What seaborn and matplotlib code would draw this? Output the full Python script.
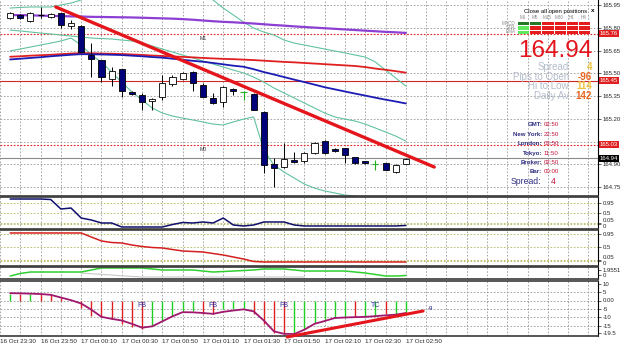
import numpy as np
import pandas as pd
import seaborn as sns
import matplotlib.pyplot as plt
from matplotlib.colors import ListedColormap
from matplotlib.transforms import blended_transform_factory

# ---- data (M5 candles, 16 Oct 23:35 .. 17 Oct 02:50) ----
opens = [165.864, 165.884, 165.845, 165.884, 165.871, 165.897, 165.810, 165.812, 165.620, 165.587,
         165.462, 165.528, 165.376, 165.357, 165.317, 165.343, 165.429, 165.462, 165.510, 165.423,
         165.337, 165.310, 165.396, 165.376, 165.363, 165.245, 164.902, 164.882, 164.928, 164.922,
         164.974, 165.053, 165.001, 165.007, 164.948, 164.922, 164.902, 164.908, 164.849, 164.902]
highs = [165.904, 165.890, 165.904, 165.937, 165.900, 165.900, 165.851, 165.820, 165.700, 165.590,
         165.541, 165.530, 165.380, 165.370, 165.335, 165.488, 165.488, 165.510, 165.515, 165.436,
         165.370, 165.415, 165.400, 165.380, 165.370, 165.250, 164.941, 165.040, 164.981, 164.980,
         165.045, 165.060, 165.005, 165.010, 164.950, 164.925, 164.928, 164.910, 164.900, 164.940]
lows = [165.858, 165.860, 165.840, 165.864, 165.865, 165.798, 165.790, 165.640, 165.475, 165.442,
        165.416, 165.343, 165.360, 165.258, 165.258, 165.324, 165.416, 165.455, 165.383, 165.343,
        165.297, 165.277, 165.357, 165.324, 165.255, 164.842, 164.750, 164.875, 164.908, 164.908,
        164.970, 164.968, 164.981, 164.908, 164.905, 164.905, 164.862, 164.860, 164.845, 164.900]
closes = [165.897, 165.864, 165.897, 165.884, 165.890, 165.818, 165.830, 165.640, 165.594, 165.475,
          165.515, 165.383, 165.363, 165.310, 165.330, 165.436, 165.475, 165.502, 165.436, 165.343,
          165.304, 165.409, 165.383, 165.376, 165.258, 164.895, 164.875, 164.935, 164.915, 164.974,
          165.040, 164.974, 164.987, 164.961, 164.908, 164.908, 164.902, 164.862, 164.895, 164.935]
green_doji = [23, 36]

ma_purple = [165.884, 165.883, 165.882, 165.880, 165.878, 165.877, 165.875, 165.874, 165.872, 165.871,
             165.870, 165.869, 165.868, 165.866, 165.864, 165.862, 165.860, 165.857, 165.853, 165.848,
             165.843, 165.839, 165.836, 165.832, 165.828, 165.823, 165.818, 165.814, 165.809, 165.805,
             165.801, 165.797, 165.793, 165.789, 165.785, 165.781, 165.777, 165.773, 165.770, 165.766]
ma_red = [165.609, 165.612, 165.616, 165.619, 165.622, 165.626, 165.630, 165.633, 165.632, 165.630,
          165.629, 165.627, 165.624, 165.621, 165.617, 165.614, 165.611, 165.608, 165.605, 165.601,
          165.598, 165.595, 165.593, 165.590, 165.587, 165.583, 165.579, 165.575, 165.572, 165.568,
          165.564, 165.560, 165.556, 165.552, 165.548, 165.541, 165.531, 165.523, 165.514, 165.504]
ma_blue = [165.591, 165.596, 165.601, 165.606, 165.612, 165.617, 165.622, 165.626, 165.625, 165.624,
           165.622, 165.620, 165.616, 165.612, 165.607, 165.603, 165.596, 165.589, 165.582, 165.576,
           165.568, 165.559, 165.550, 165.543, 165.527, 165.508, 165.492, 165.475, 165.458, 165.442,
           165.425, 165.408, 165.394, 165.380, 165.366, 165.353, 165.339, 165.326, 165.314, 165.301]
bb_upper = [165.930, 165.934, 165.937, 165.937, 165.937, 165.950, 165.963, 165.983, 166.009, 166.036,
            166.062, 166.082, 166.102, 166.115, 166.115, 166.108, 166.095, 166.075, 166.055, 166.023,
            165.983, 165.930, 165.884, 165.838, 165.798, 165.772, 165.752, 165.719, 165.699, 165.686,
            165.673, 165.660, 165.647, 165.634, 165.620, 165.607, 165.574, 165.521, 165.469, 165.416]
bb_mid = [165.785, 165.779, 165.772, 165.765, 165.759, 165.752, 165.746, 165.739, 165.732, 165.729,
          165.726, 165.719, 165.713, 165.699, 165.680, 165.660, 165.640, 165.620, 165.601, 165.581,
          165.561, 165.541, 165.521, 165.502, 165.475, 165.442, 165.403, 165.370, 165.337, 165.304,
          165.271, 165.238, 165.212, 165.198, 165.185, 165.165, 165.139, 165.113, 165.086, 165.053]
bb_lower = [165.647, 165.660, 165.673, 165.686, 165.699, 165.713, 165.732, 165.686, 165.620, 165.574,
            165.508, 165.442, 165.376, 165.324, 165.271, 165.238, 165.218, 165.205, 165.192, 165.179,
            165.165, 165.159, 165.179, 165.198, 165.212, 164.994, 164.895, 164.849, 164.809, 164.770,
            164.743, 164.724, 164.711, 164.697, 164.691, 164.684, 164.678, 164.671, 164.664, 164.658]

levels_red_dotted = [165.76, 165.03]
level_red_solid = 165.45
last_price = 164.94
trend_main_x = [4.5, 41.8]
trend_main_y = [165.937, 164.882]
price_ticks = [164.75, 164.90, 165.05, 165.20, 165.35, 165.50, 165.65, 165.80, 165.95]
price_labels = ['164.75', '164.90', '', '165.20', '165.35', '165.50', '165.65', '165.80', '165.95']

# sub windows
ind_navy = [1.112, 1.112, 1.112, 1.112, 1.09, 0.675, 0.718, 0.281, 0.194, 0.063,
            0.063, -0.112, -0.112, -0.112, -0.112, -0.112, -0.003, 0.085, 0.063, 0.107,
            0.063, 0.281, -0.025, -0.068, -0.025, 0.107, 0.107, 0.107, -0.025, -0.068,
            -0.068, -0.068, -0.068, -0.068, -0.068, -0.068, -0.068, -0.068, -0.068, -0.046]
ind_red = [0.985, 0.985, 0.985, 0.985, 0.985, 0.985, 0.985, 0.985, 0.846, 0.708,
           0.656, 0.639, 0.569, 0.518, 0.483, 0.466, 0.414, 0.362, 0.345, 0.327,
           0.275, 0.223, 0.154, 0.085, 0.0, -0.018, -0.018, -0.018, -0.018, -0.018,
           -0.018, -0.018, -0.018, -0.018, -0.018, -0.018, -0.018, -0.018, -0.018, -0.018]
level_ticks = [0.95, 0.5, 0.05, 0]
level_labels = ['0.95', '0.5', '0.05', '0']
ind_green = [-0.39, 0.59, 1.17, 1.17, 1.17, 1.17, 1.17, 1.17, 1.96, 2.74,
             2.74, 2.74, 2.74, 2.74, 2.35, 1.96, 1.96, 1.96, 1.96, 1.56,
             1.17, 1.37, 1.56, 1.76, 1.96, 2.35, 2.35, 2.35, 1.96, 1.56,
             1.56, 1.56, 1.56, 1.56, 1.17, 0.78, 0.20, -0.39, -0.39, -0.20]
grey_start = 7
ind_grey = [0.78, 0.5, 0.25, 0.0, -0.3, -0.55, -0.78, -0.78, -0.78, -0.78, -0.78, -0.78,
            -0.78, -0.78, -0.78, -0.78, -0.78, -0.78, -0.78, -0.78, -0.78, -0.78, -0.78]

osc_line = [4.4, 4.3, 4.1, 3.9, 3.4, 1.8, 0.2, -1.8, -5.5, -9.8,
            -11.0, -12.0, -14.0, -16.3, -15.5, -12.5, -9.5, -7.0, -7.1, -7.5,
            -8.0, -6.8, -6.0, -5.3, -6.5, -12.0, -18.5, -20.0, -20.1, -17.5,
            -14.0, -12.3, -10.5, -10.2, -10.0, -9.8, -9.4, -8.9, -8.5, -7.5]
osc_hist = [3.9, 3.9, 3.9, 3.9, 3.9, 1.5, 0.0, -4.2, -9.0, -10.0,
            -11.0, -14.0, -16.0, -17.0, -15.0, -12.0, -9.0, -6.0, -6.0, -8.0,
            -8.0, -5.0, -5.0, -4.5, -8.0, -14.0, -19.5, -20.0, -20.0, -17.0,
            -13.5, -11.0, -10.5, -10.0, -10.0, -9.3, -9.3, -8.1, -7.8, -6.9]
osc_dir = "grg" + "r" * 11 + "ggggg" + "rrgggrrrrggggggrggrgg"
osc_ticks = [10, 5, 0, -5, -10, -15, -19.5]
osc_labels = ['10', '5', '0.00', '-5', '-10', '-15', '-19.5']
sig_idx = [13, 20, 27, 36]
sig_txt = ['FB', 'FB', 'FB', 'TC']
trend_osc_x = [27.3, 40.7]
trend_osc_y = [-21.9, -6.3]

time_idx = [-1, 3, 7, 11, 15, 19, 23, 27, 31, 35, 39]
time_labels = ['16 Oct 23:30', '16 Oct 23:50', '17 Oct 00:10', '17 Oct 00:30', '17 Oct 00:50',
               '17 Oct 01:10', '17 Oct 01:30', '17 Oct 01:50', '17 Oct 02:10', '17 Oct 02:30',
               '17 Oct 02:50']

tf_labels = ['M1', 'M5', 'M15', 'M30', 'H1', 'H4']
sig_rows = ['MACD', 'STR', 'EMA']
sig_matrix = [[0, 0, 2, 2, 2, 2],
              [1, 2, 2, 2, 2, 2],
              [1, 2, 2, 2, 2, 2]]
stat_names = ['Spread', 'Pips to Open', 'Hi to Low', 'Daily Av']
stat_vals = ['4', '-96', '114', '142']
clock_names = ['GMT:', 'New York:', 'London:', 'Tokyo:', 'Broker:', 'Bar:']
clock_vals = ['02:50', '22:50', '03:50', '11:50', '02:50', '00:00']

# ---- figure ----
sns.set_style("white")
plt.rcParams['font.family'] = ['Liberation Sans', 'DejaVu Sans']

W, H = 625, 348
fig = plt.figure(figsize=(W / 100, H / 100), dpi=100)


def rect(x0, y0, x1, y1):
    return [x0 / W, 1 - y1 / H, (x1 - x0) / W, (y1 - y0) / H]


XLIM = (-0.686, 57.94)
GRID = dict(color='#9a9a9a', linestyle=(0, (2, 2)), linewidth=0.6)
idx = np.arange(len(opens))


def style_axis(a, top=True):
    a.set_xlim(*XLIM)
    a.set_xticks(np.arange(-1, 58, 2))
    a.tick_params(axis='x', length=0, labelbottom=False)
    a.yaxis.tick_right()
    a.tick_params(axis='y', labelsize=4.3, length=2, pad=1.5, width=0.5)
    a.grid(True, axis='x', **GRID)
    a.spines['left'].set_visible(False)
    a.spines['right'].set_color('black')
    a.spines['right'].set_linewidth(0.8)
    for s in ['top', 'bottom']:
        a.spines[s].set_color('#3a3a3a')
        a.spines[s].set_linewidth(1.2)
    a.spines['top'].set_visible(top)


def split_zero_labels(a):
    # "0.05" and "0" sit almost on top of each other, as in the terminal
    for lab in a.get_yticklabels():
        if lab.get_text() == '0':
            lab.set_verticalalignment('top')
        elif lab.get_text() == '0.05':
            lab.set_verticalalignment('bottom')


# main price window
ax = fig.add_axes(rect(0, 0, 598, 196))
style_axis(ax, top=False)
ax.set_ylim(164.691, 165.983)
ax.set_yticks(price_ticks)
ax.set_yticklabels(price_labels)
ax.grid(True, axis='y', **GRID)

for lv in levels_red_dotted:
    ax.axhline(lv, color='#e02020', linestyle=(0, (1.5, 1.5)), linewidth=0.8)
ax.axhline(level_red_solid, color='#d02828', linewidth=0.8)
ax.axhline(last_price, color='#8a8a8a', linewidth=0.8)

for band in (bb_upper, bb_mid, bb_lower):
    ax.plot(idx, band, color='#62c39d', lw=0.8)
sns.lineplot(x=idx, y=ma_purple, ax=ax, color='#8c3fd2', lw=1.6)
sns.lineplot(x=idx, y=ma_red, ax=ax, color='#e02020', lw=1.3)
sns.lineplot(x=idx, y=ma_blue, ax=ax, color='#1c1cb4', lw=1.3)

o, h, l, c = map(np.array, (opens, highs, lows, closes))
doji = o == c
gmask = np.isin(idx, green_doji)
ax.vlines(idx[~gmask], l[~gmask], h[~gmask], color='black', lw=0.7, zorder=3)
ax.vlines(idx[gmask], l[gmask], h[gmask], color='#22b022', lw=0.8, zorder=3)
ax.hlines(c[doji], idx[doji] - 0.3, idx[doji] + 0.3,
          color=np.where(gmask[doji], '#22b022', 'black'), lw=0.8, zorder=4)
up = (c > o)
dn = (c < o)
body_lo = np.minimum(o, c)
body_h = np.maximum(np.abs(c - o), 0.006)
ax.bar(idx[up], body_h[up], bottom=body_lo[up], width=0.6, color='white',
       edgecolor='black', linewidth=0.6, zorder=4)
ax.bar(idx[dn], body_h[dn], bottom=body_lo[dn], width=0.6, color='#00007a',
       edgecolor='black', linewidth=0.6, zorder=4)

ax.plot(trend_main_x, trend_main_y, color='#e4161c', lw=2.4, solid_capstyle='round', zorder=6)
ax.text(18.7, 165.745, 'M1', fontsize=3.8, color='#333333', va='top')
ax.text(18.7, 165.015, 'M0', fontsize=3.8, color='#333333', va='top')

bt = blended_transform_factory(ax.transAxes, ax.transData)
for lv in levels_red_dotted + [level_red_solid]:
    ax.text(1.003, lv, f'{lv:.2f}', transform=bt, fontsize=4.3, color='white', va='center',
            ha='left', clip_on=False, zorder=10,
            bbox=dict(boxstyle='square,pad=0.15', fc='#e02020', ec='none'))
ax.text(1.003, last_price, f'{last_price:.2f}', transform=bt, fontsize=4.3, color='white',
        va='center', ha='left', clip_on=False, zorder=10,
        bbox=dict(boxstyle='square,pad=0.15', fc='black', ec='none'))

# window 2
ax2 = fig.add_axes(rect(0, 197, 598, 229))
style_axis(ax2)
ax2.set_ylim(-0.2, 1.2)
ax2.set_yticks(level_ticks)
ax2.set_yticklabels(level_labels)
split_zero_labels(ax2)
for lv in level_ticks:
    ax2.axhline(lv, color='#b4b45a', linestyle=(0, (2, 2)), linewidth=0.6)
sns.lineplot(x=idx, y=ind_navy, ax=ax2, color='#10106e', lw=1.1)

# window 3
ax3 = fig.add_axes(rect(0, 230, 598, 266))
style_axis(ax3)
ax3.set_ylim(-0.157, 1.088)
ax3.set_yticks(level_ticks)
ax3.set_yticklabels(level_labels)
split_zero_labels(ax3)
for lv in level_ticks:
    ax3.axhline(lv, color='#b4b45a', linestyle=(0, (2, 2)), linewidth=0.6)
sns.lineplot(x=idx, y=ind_red, ax=ax3, color='#d42020', lw=1.1)

# window 4
ax4 = fig.add_axes(rect(0, 267, 598, 279))
style_axis(ax4)
ax4.set_ylim(-1.56, 3.13)
ax4.set_yticks([1.9551, 0])
ax4.set_yticklabels(['1.9551', '0'])
ax4.plot(idx[grey_start:grey_start + len(ind_grey)], ind_grey, color='#c8c8c8', lw=0.8)
sns.lineplot(x=idx, y=ind_green, ax=ax4, color='#30d030', lw=1.1)

# window 5
ax5 = fig.add_axes(rect(0, 281, 598, 336))
style_axis(ax5)
ax5.set_ylim(-21.3, 11.7)
ax5.set_yticks(osc_ticks)
ax5.set_yticklabels(osc_labels)
for lv in [5, 0, -5, -10, -15]:
    ax5.axhline(lv, **GRID)
ax5.vlines(idx, 0, osc_hist, colors=['#20d020' if d == 'g' else '#e02020' for d in osc_dir],
           lw=1.0, zorder=3)
sns.lineplot(x=idx, y=osc_line, ax=ax5, color='#a0186e', lw=1.3, zorder=4)
for i, t in zip(sig_idx, sig_txt):
    ax5.text(i, -3.2, t, fontsize=5, color='#3030a0', ha='center', va='center', zorder=5)
ax5.plot(trend_osc_x, trend_osc_y, color='#e4161c', lw=2.2, solid_capstyle='round',
         zorder=6, clip_on=False)
ax5.text(41.2, -4.6, '-9', fontsize=4.3, color='#202080', va='center')

bt5 = blended_transform_factory(ax5.transData, ax5.transAxes)
for i, t in zip(time_idx, time_labels):
    ax5.text(i, -0.05, t, transform=bt5, fontsize=4.5, ha='left', va='top', clip_on=False)

for a in (ax, ax2, ax3, ax4, ax5):
    a.set_xlabel('')
    a.set_ylabel('')
    if a.get_legend():
        a.get_legend().remove()

# ---- info panel (top right) ----
fig.text(587 / W, 1 - 11 / H, 'Close all open positions', fontsize=4.3, ha='right',
         va='center', color='black')
fig.text(593 / W, 1 - 11 / H, 'x', fontsize=4.5, ha='center', va='center',
         color='black', fontweight='bold')

axs = fig.add_axes(rect(517, 21, 590, 34))
sns.heatmap(np.array(sig_matrix), ax=axs, cbar=False, vmin=-0.5, vmax=2.5,
            cmap=ListedColormap(['#237a23', '#5ee85e', '#e41c1c']),
            linewidths=0.7, linecolor='white',
            xticklabels=tf_labels, yticklabels=sig_rows)
axs.xaxis.tick_top()
axs.tick_params(length=0, pad=1, labelsize=3.3, labelcolor='#8a8a8a')
axs.tick_params(axis='y', rotation=0)
axs.tick_params(axis='x', rotation=0)

fig.text(592 / W, 1 - 51 / H, f'{last_price:.2f}', fontsize=17.5, ha='right', va='center',
         color='#e4141c')
stat_colors = ['#f0c23a', '#e8641e', '#f0c23a', '#e8641e']
for k, (n, v) in enumerate(zip(stat_names, stat_vals)):
    y = 67 + 9.7 * k
    fig.text(569 / W, 1 - y / H, n, fontsize=7, ha='right', va='center', color='#b4bccb')
    fig.text(592 / W, 1 - y / H, v, fontsize=7, ha='right', va='center',
             color=stat_colors[k], fontweight='bold')

for k, (n, v) in enumerate(zip(clock_names, clock_vals)):
    y = 125 + 9.4 * k
    fig.text(542 / W, 1 - y / H, n, fontsize=4.4, ha='right', va='center', color='#2d2d80',
             fontweight='bold')
    fig.text(544 / W, 1 - y / H, v, fontsize=4.4, ha='left', va='center', color='#c8143c')
fig.text(541 / W, 1 - 182 / H, 'Spread:', fontsize=6.2, ha='right', va='center', color='#2d2d80')
fig.text(551 / W, 1 - 182 / H, stat_vals[0], fontsize=6.2, ha='left', va='center', color='#c8143c')

fig.savefig('out.png', dpi=100)
